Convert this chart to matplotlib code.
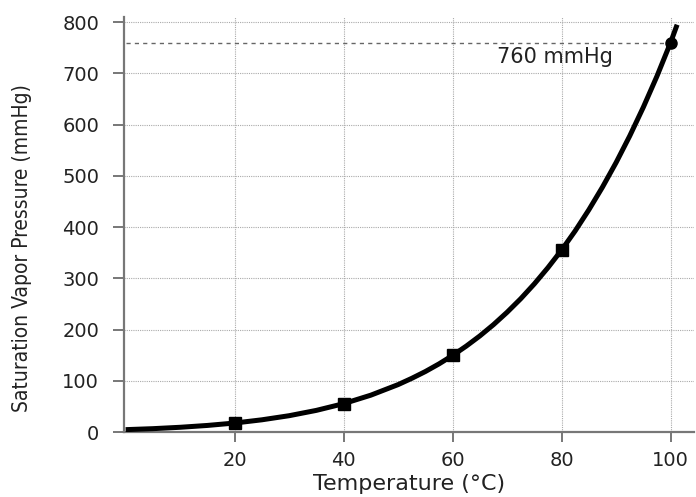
import matplotlib.pyplot as plt

# curve (deg C, mmHg)
temp = [0, 5, 10, 15, 20, 25, 30, 35, 40, 45, 50, 52.5, 55, 57.5, 60, 62.5, 65, 67.5, 70,
        72.5, 75, 77.5, 80, 82.5, 85, 87.5, 90, 92.5, 95, 97.5, 100, 101.2]
pressure = [4.6, 6.5, 9.2, 12.8, 17.5, 23.8, 31.8, 42.2, 55.3, 71.9, 92.5, 104.7, 118, 132.9,
            149.4, 167.6, 187.5, 209.5, 233.7, 260.1, 289.1, 320.8, 355.1, 392.6, 433.6, 477.9,
            525.8, 577.7, 633.9, 694.4, 760, 795]

square_t = [20, 40, 60, 80]
square_p = [17.5, 55.3, 149.4, 355.1]
boil_t = [100]
boil_p = [760]

x_ticks = [20, 40, 60, 80, 100]
y_ticks = [0, 100, 200, 300, 400, 500, 600, 700, 800]
atm = 760

fig = plt.figure(figsize=(6.96, 4.97), dpi=100)
ax = fig.add_axes([124 / 696, 65 / 497, (694 - 124) / 696, (432 - 17) / 497])

ax.set_xlim(-0.3, 104.3)
ax.set_ylim(0, 810)

grid_kw = dict(color='#aaaaaa', linestyle=(0, (1, 1)), linewidth=0.8, zorder=1)
for y in y_ticks[1:]:
    ax.axhline(y, **grid_kw)
for x in x_ticks:
    ax.axvline(x, **grid_kw)

ax.plot([0, 100.5], [atm, atm], color='#666666', linestyle=(0, (3, 3)), linewidth=1.0, zorder=2)
ax.text(78.7, 731, '760 mmHg', fontsize=15, family='DejaVu Sans', color='#222222',
        ha='center', va='center')

ax.plot(temp, pressure, color='black', linewidth=3.6, solid_capstyle='butt', zorder=3)
ax.plot(square_t, square_p, 's', color='black', markersize=8, zorder=4)
ax.plot(boil_t, boil_p, 'o', color='black', markersize=8, zorder=4)

for s in ['top', 'right']:
    ax.spines[s].set_visible(False)
for s in ['left', 'bottom']:
    ax.spines[s].set_color('#777777')
    ax.spines[s].set_linewidth(1.6)

ax.set_xticks(x_ticks)
ax.set_yticks(y_ticks)
ax.tick_params(axis='both', direction='out', width=1.4, color='#777777',
               labelsize=14, labelcolor='#222222')
ax.tick_params(axis='x', length=7, pad=7)
ax.tick_params(axis='y', length=8, pad=10)

ax.set_xlabel('Temperature (°C)', fontsize=16, color='#222222')
ax.xaxis.label.set_va('center')
ax.xaxis.set_label_coords(0.5, -0.126)
ax.set_ylabel('Saturation Vapor Pressure (mmHg)', fontsize=15, fontstretch='condensed',
              color='#222222')
ax.yaxis.label.set_va('center')
ax.yaxis.set_label_coords(-0.179, 0.443)

fig.savefig('out.png', dpi=100)
